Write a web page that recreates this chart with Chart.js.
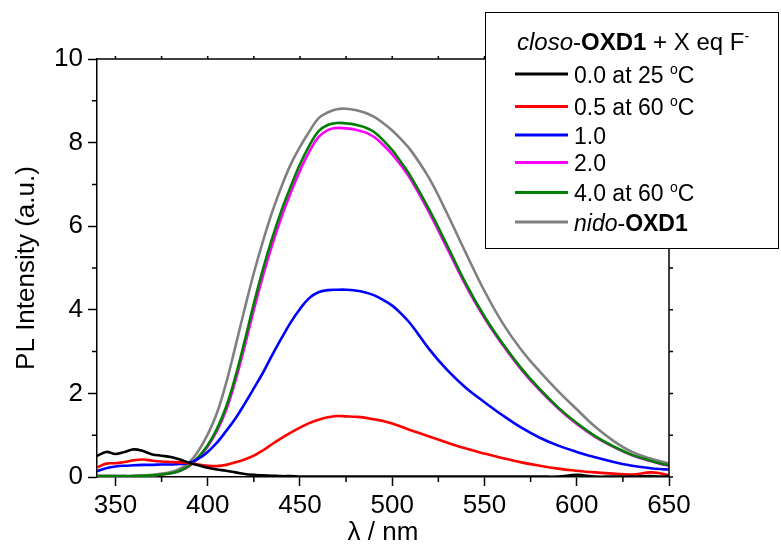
<!DOCTYPE html>
<html>
<head>
<meta charset="utf-8">
<script src="https://cdn.jsdelivr.net/npm/chart.js@4.4.1/dist/chart.umd.min.js"></script>
<style>
  html, body { margin: 0; padding: 0; background: #fff; }
  canvas { display: block; }
</style>
</head>
<body>
<canvas id="myChart" width="781" height="548"></canvas>
<script>
// wavelengths (nm) shared by every spectrum
const wavelength = [340,345,350,355,360,365,370,375,380,385,390,395,400,405,410,415,420,425,430,435,
    440,445,450,455,460,465,470,475,480,485,490,495,500,505,510,520,530,540,550,560,
    570,580,590,600,610,620,630,640,645,650];

// PL intensity (a.u.)
const eq00 = [0.50,0.60,0.55,0.60,0.66,0.62,0.54,0.51,0.48,0.42,0.34,0.28,0.22,0.18,0.15,0.11,0.07,0.05,0.04,0.03,
    0.02,0.02,0.01,0.01,0.01,0.01,0.01,0.01,0.01,0.01,0.01,0.01,0.01,0.01,0.01,0.01,0.01,0.01,0.01,0.01,
    0.01,0.01,0.01,0.05,0.01,0.01,0.01,0.02,0.01,0.01];
const eq05 = [0.23,0.32,0.33,0.36,0.40,0.42,0.39,0.37,0.36,0.35,0.33,0.30,0.27,0.26,0.29,0.35,0.42,0.51,0.64,0.79,
    0.93,1.06,1.18,1.29,1.37,1.43,1.46,1.45,1.44,1.42,1.38,1.34,1.28,1.20,1.12,0.97,0.82,0.68,0.56,0.45,
    0.35,0.27,0.20,0.15,0.11,0.08,0.06,0.11,0.09,0.04];
const eq10 = [0.14,0.21,0.25,0.27,0.28,0.29,0.29,0.30,0.30,0.31,0.34,0.44,0.60,0.82,1.10,1.40,1.75,2.12,2.50,2.92,
    3.32,3.70,4.02,4.28,4.42,4.47,4.48,4.48,4.46,4.42,4.35,4.24,4.10,3.90,3.66,3.06,2.55,2.13,1.79,1.47,
    1.18,0.94,0.75,0.60,0.47,0.36,0.27,0.21,0.19,0.18];
const eq20 = [0.02,0.02,0.02,0.02,0.02,0.03,0.04,0.06,0.09,0.15,0.26,0.46,0.73,1.10,1.60,2.30,3.12,4.00,4.82,5.56,
    6.22,6.80,7.33,7.78,8.13,8.30,8.35,8.34,8.31,8.25,8.14,7.95,7.72,7.44,7.12,6.33,5.45,4.57,3.80,3.15,
    2.57,2.07,1.64,1.27,0.96,0.72,0.52,0.38,0.32,0.27];
const eq40 = [0.02,0.02,0.02,0.02,0.02,0.03,0.04,0.06,0.09,0.15,0.27,0.48,0.76,1.15,1.68,2.40,3.25,4.15,4.98,5.72,
    6.38,6.95,7.48,7.92,8.27,8.42,8.47,8.46,8.43,8.37,8.26,8.06,7.82,7.52,7.19,6.40,5.52,4.62,3.84,3.18,
    2.60,2.10,1.66,1.29,0.98,0.73,0.53,0.39,0.33,0.28];
const nido = [0.02,0.02,0.02,0.02,0.03,0.04,0.05,0.08,0.12,0.20,0.35,0.63,1.02,1.53,2.25,3.12,4.02,4.88,5.65,6.35,
    6.95,7.48,7.90,8.26,8.58,8.72,8.80,8.81,8.78,8.72,8.62,8.47,8.29,8.07,7.82,7.15,6.28,5.35,4.45,3.67,
    3.04,2.52,2.05,1.62,1.20,0.86,0.60,0.44,0.38,0.33];

const xTicks = [350, 400, 450, 500, 550, 600, 650];
const xMinor = [375, 425, 475, 525, 575, 625];
const yTicks = [0, 2, 4, 6, 8, 10];
const yMinor = [1, 3, 5, 7, 9];

const FONT = '"Liberation Sans", Arial, sans-serif';

const series = [
    { label: '0.0 at 25 °C', data: eq00, color: '#000000', order: 0 },
    { label: '0.5 at 60 °C', data: eq05, color: '#ff0000', order: 0 },
    { label: '1.0', data: eq10, color: '#0000ff', order: 0 },
    { label: '2.0', data: eq20, color: '#ff00ff', order: 1 },
    { label: '4.0 at 60 °C', data: eq40, color: '#008000', order: 0 },
    { label: 'nido-OXD1', data: nido, color: '#808080', order: 0 }
];

const datasets = series.map(s => ({
    label: s.label,
    data: wavelength.map((w, i) => ({ x: w, y: s.data[i] })),
    borderColor: s.color,
    borderWidth: 2.6,
    pointRadius: 0,
    fill: false,
    tension: 0.4,
    order: s.order
}));

// legend text pieces (italic / bold / superscript runs)
const legendRows = [
    [{ text: '0.0 at 25 ' }, { text: 'o', sup: true }, { text: 'C' }],
    [{ text: '0.5 at 60 ' }, { text: 'o', sup: true }, { text: 'C' }],
    [{ text: '1.0' }],
    [{ text: '2.0' }],
    [{ text: '4.0 at 60 ' }, { text: 'o', sup: true }, { text: 'C' }],
    [{ text: 'nido', italic: true }, { text: '-' }, { text: 'OXD1', bold: true }]
];
const legendTitle = [{ text: 'closo', italic: true }, { text: '-' }, { text: 'OXD1', bold: true },
    { text: ' + X eq F' }, { text: '-', sup: true }];
const legendRowY = [74, 106.5, 135, 162.5, 192.5, 222];

function drawRuns(ctx, runs, x, y, size) {
    runs.forEach(r => {
        const fs = r.sup ? Math.round(size * 0.6) : size;
        ctx.font = (r.italic ? 'italic ' : '') + (r.bold ? 'bold ' : '') + fs + 'px ' + FONT;
        ctx.fillText(r.text, x, r.sup ? y - 9 : y);
        x += ctx.measureText(r.text).width;
    });
}

const framePlugin = {
    id: 'frame',
    afterDraw(chart) {
        const ctx = chart.ctx;
        const { left, right, top, bottom } = chart.chartArea;
        const xs = chart.scales.x, ys = chart.scales.y;
        ctx.save();
        ctx.strokeStyle = '#000';
        ctx.lineWidth = 1.5;
        ctx.beginPath();
        // top and right border
        ctx.moveTo(left, top); ctx.lineTo(right, top); ctx.lineTo(right, bottom);
        // minor ticks bottom / left
        xMinor.forEach(v => { const px = xs.getPixelForValue(v); ctx.moveTo(px, bottom); ctx.lineTo(px, bottom + 5); });
        yMinor.forEach(v => { const py = ys.getPixelForValue(v); ctx.moveTo(left, py); ctx.lineTo(left - 5, py); });
        // small ticks on top / right
        xTicks.concat(xMinor).forEach(v => { const px = xs.getPixelForValue(v); ctx.moveTo(px, top); ctx.lineTo(px, top - 3); });
        yTicks.concat(yMinor).forEach(v => { const py = ys.getPixelForValue(v); ctx.moveTo(right, py); ctx.lineTo(right + 4, py); });
        ctx.stroke();

        // legend box
        ctx.fillStyle = '#fff';
        ctx.fillRect(485, 12, 294, 236);
        ctx.lineWidth = 1;
        ctx.strokeRect(485.5, 12.5, 293, 236);

        ctx.fillStyle = '#000';
        ctx.textBaseline = 'alphabetic';
        ctx.textAlign = 'left';
        drawRuns(ctx, legendTitle, 517, 50, 24);
        legendRows.forEach((row, i) => {
            const y = legendRowY[i];
            ctx.strokeStyle = series[i].color;
            ctx.lineWidth = 3;
            ctx.beginPath();
            ctx.moveTo(515, y);
            ctx.lineTo(568, y);
            ctx.stroke();
            ctx.fillStyle = '#000';
            drawRuns(ctx, row, 574, y + 8.5, 23);
        });
        ctx.restore();
    }
};

const axisFont = { family: FONT, size: 26 };

new Chart(document.getElementById('myChart').getContext('2d'), {
    type: 'line',
    data: { datasets: datasets },
    options: {
        responsive: false,
        animation: false,
        layout: { padding: { top: 59, right: 112, left: 0, bottom: 0 } },
        plugins: { legend: { display: false }, tooltip: { enabled: false } },
        scales: {
            x: {
                type: 'linear',
                min: 340,
                max: 650,
                afterBuildTicks: s => { s.ticks = xTicks.map(v => ({ value: v })); },
                afterFit: s => { s.height = 71; },
                grid: { drawOnChartArea: false, tickLength: 9, tickWidth: 1.5, color: '#000' },
                border: { color: '#000', width: 1.5 },
                ticks: { font: axisFont, color: '#000', padding: 4, maxRotation: 0 },
                title: { display: true, text: 'λ / nm', font: axisFont, color: '#000', padding: { top: 0, bottom: 0 } }
            },
            y: {
                min: 0,
                max: 10,
                afterBuildTicks: s => { s.ticks = yTicks.map(v => ({ value: v })); },
                afterFit: s => { s.width = 97; },
                grid: { drawOnChartArea: false, tickLength: 9, tickWidth: 1.5, color: '#000' },
                border: { color: '#000', width: 1.5 },
                ticks: { font: axisFont, color: '#000', padding: 5 },
                title: { display: true, text: 'PL Intensity (a.u.)', font: axisFont, color: '#000', padding: { top: 11, bottom: 0 } }
            }
        }
    },
    plugins: [framePlugin]
});
</script>
</body>
</html>
